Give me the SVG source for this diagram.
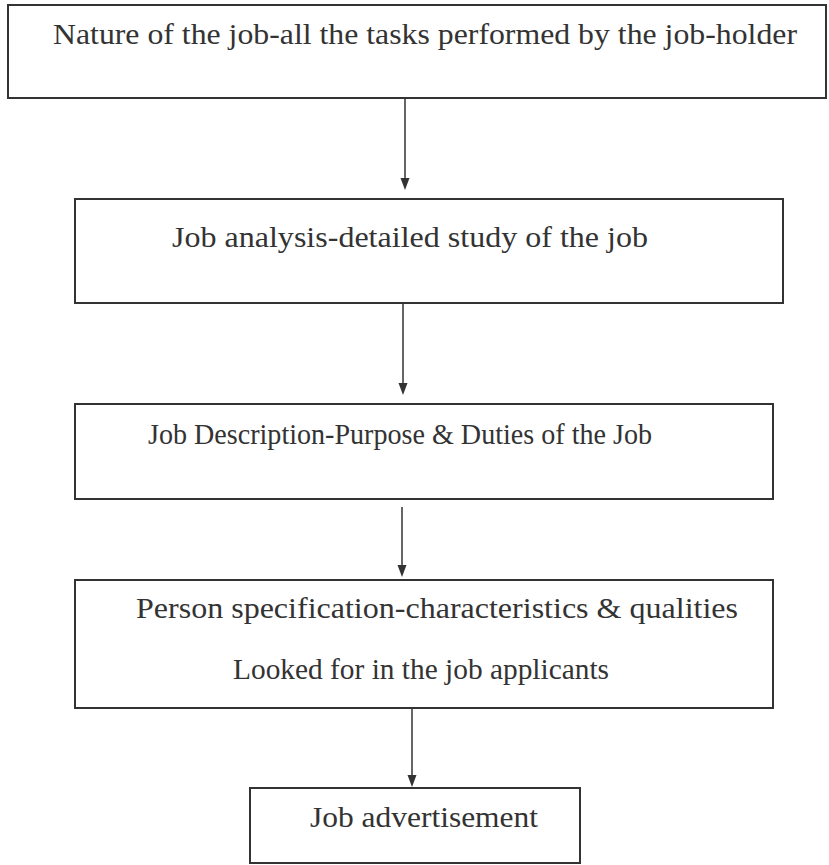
<svg xmlns="http://www.w3.org/2000/svg" width="829" height="865" viewBox="0 0 829 865">
<style>
.box{fill:#fff;stroke:#333;stroke-width:2}
.t{font-family:"Liberation Serif","Times New Roman",serif;font-size:29px;fill:#333}
.c{stroke:#333;stroke-width:1.5;fill:none}
.h{fill:#333}
</style>
<rect width="829" height="865" fill="#fff"/>
<g id="n1"><rect class="box" x="8" y="5" width="818" height="93"/>
<text class="t" x="53" y="44" textLength="744" lengthAdjust="spacingAndGlyphs">Nature of the job-all the tasks performed by the job-holder</text></g>
<g id="n2"><rect class="box" x="75" y="199" width="708" height="104"/>
<text class="t" x="172" y="247" textLength="476" lengthAdjust="spacingAndGlyphs">Job analysis-detailed study of the job</text></g>
<g id="n3"><rect class="box" x="75" y="404" width="698" height="95"/>
<text class="t" x="148" y="444" textLength="504" lengthAdjust="spacingAndGlyphs">Job Description-Purpose &amp; Duties of the Job</text></g>
<g id="n4"><rect class="box" x="75" y="580" width="698" height="128"/>
<text class="t" x="136" y="618" textLength="602" lengthAdjust="spacingAndGlyphs">Person specification-characteristics &amp; qualities</text>
<text class="t" x="233" y="679" textLength="376" lengthAdjust="spacingAndGlyphs">Looked for in the job applicants</text></g>
<g id="n5"><rect class="box" x="250" y="788" width="330" height="75"/>
<text class="t" x="310" y="827" textLength="228" lengthAdjust="spacingAndGlyphs">Job advertisement</text></g>
<g id="connectors">
<line class="c" x1="405" y1="98" x2="405" y2="180"/>
<polygon class="h" points="400.5,178 409.5,178 405,190"/>
<line class="c" x1="403" y1="303" x2="403" y2="385"/>
<polygon class="h" points="398.5,383 407.5,383 403,395"/>
<line class="c" x1="402" y1="507" x2="402" y2="567"/>
<polygon class="h" points="397.5,565 406.5,565 402,577"/>
<line class="c" x1="412" y1="708" x2="412" y2="777"/>
<polygon class="h" points="407.5,775 416.5,775 412,787"/>
</g>
</svg>
